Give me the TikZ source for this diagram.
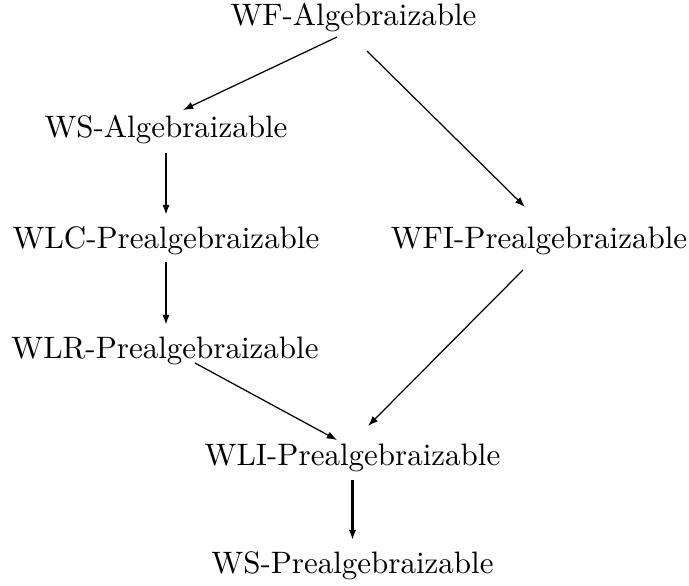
\documentclass[tikz,border=0pt]{standalone}
\usetikzlibrary{arrows.meta}
\begin{document}
\begin{tikzpicture}[x=0.3226pt,y=-0.3226pt,
  lbl/.style={anchor=base,inner sep=0pt,font=\normalsize},
  imp/.style={-{Latex[length=3.3pt,width=2.4pt]},line width=0.4pt},
  strong/.style={-{Latex[length=3.3pt,width=2.4pt]},line width=0.9pt}]
\useasboundingbox (0,0) rectangle (689,585);

\node[lbl] (wf)  at (353.5,25)  {WF-Algebraizable};
\node[lbl] (ws)  at (166,137)   {WS-Algebraizable};
\node[lbl] (wlc) at (166,248)   {WLC-Prealgebraizable};
\node[lbl] (wfi) at (539,248)   {WFI-Prealgebraizable};
\node[lbl] (wlr) at (165,358)   {WLR-Prealgebraizable};
\node[lbl] (wli) at (352.5,465) {WLI-Prealgebraizable};
\node[lbl] (wsp) at (352.5,573) {WS-Prealgebraizable};

\draw[imp] ([shift={(-16.5,12)}]wf.base) -- ([shift={(17,-27)}]ws.base);
\draw[imp] ([shift={(13.5,26)}]wf.base) -- ([shift={(-14,-41)}]wfi.base);
\draw[strong] ([shift={(0,16)}]ws.base) -- ([shift={(0,-33)}]wlc.base);
\draw[strong] ([shift={(0,14)}]wlc.base) -- ([shift={(1,-33)}]wlr.base);
\draw[imp] ([shift={(30,5)}]wlr.base) -- ([shift={(-15.5,-25)}]wli.base);
\draw[imp] ([shift={(-16,22)}]wfi.base) -- ([shift={(15.5,-39)}]wli.base);
\draw[strong] ([shift={(0,15)}]wli.base) -- ([shift={(0,-33)}]wsp.base);
\end{tikzpicture}
\end{document}
